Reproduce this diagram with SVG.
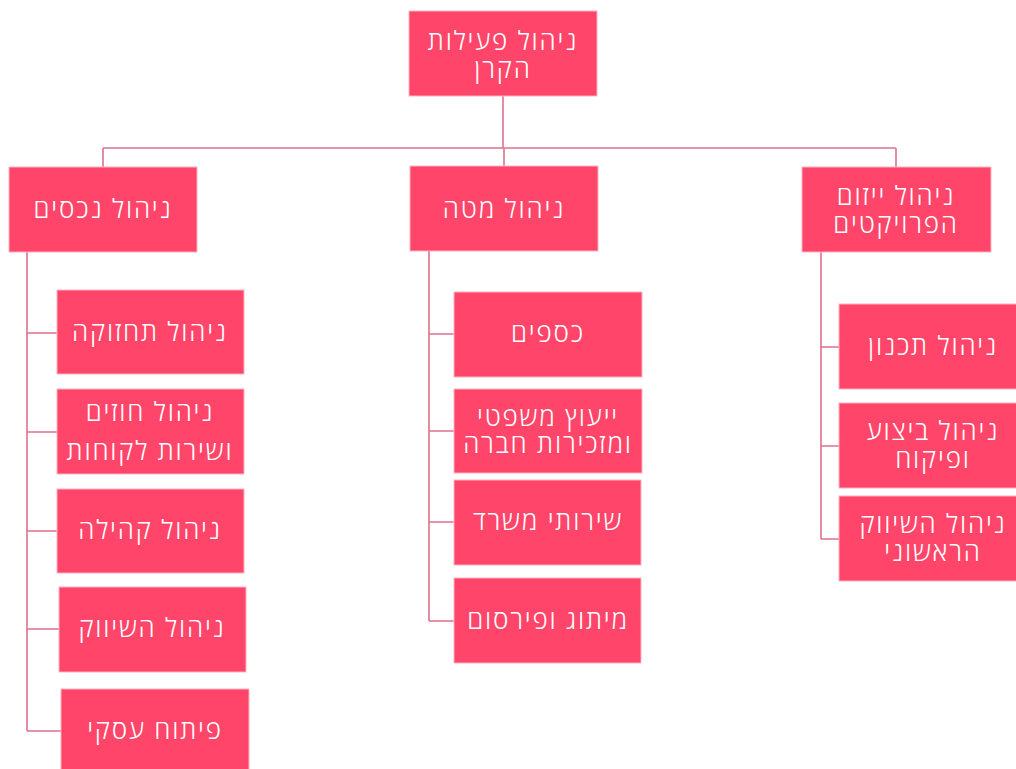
<svg xmlns="http://www.w3.org/2000/svg" width="1016" height="769" viewBox="0 0 1016 769">
<style>
.n{fill:#ff4569;stroke:#ffb3c2;stroke-width:1}
.t{fill:#ffffff;font-family:"Open Sans","Liberation Sans","DejaVu Sans",sans-serif;font-size:26px;font-weight:300;letter-spacing:1.8px;text-anchor:middle;direction:rtl}
.c{fill:none;stroke:#e0718c;stroke-width:1.6}
</style>
<rect width="1016" height="769" fill="#ffffff"/>
<g id="connectors">
<path class="c" d="M503,96V148M103,148H896M103,148V167M504,148V166M896,148V167"/>
<path class="c" d="M27,252V731M27,333H57M27,432H57M27,531H57M27,629H59M27,731H61"/>
<path class="c" d="M429,251V621M429,334H454M429,431H454M429,522H454M429,621H454"/>
<path class="c" d="M821,252V539M821,347H839M821,446H839M821,539H839"/>
</g>
<g id="top"><rect class="n" x="409" y="11" width="188" height="85"/><text class="t" x="503" y="50">ניהול פעילות</text><text class="t" x="503" y="78">הקרן</text></g>
<g id="assets"><rect class="n" x="9" y="167" width="188" height="85"/><text class="t" x="103" y="218">ניהול נכסים</text></g>
<g id="staff"><rect class="n" x="410" y="166" width="188" height="85"/><text class="t" x="504" y="218">ניהול מטה</text></g>
<g id="projects"><rect class="n" x="802" y="167" width="189" height="85"/><text class="t" x="896" y="205">ניהול ייזום</text><text class="t" x="896" y="233">הפרויקטים</text></g>
<g id="maintenance"><rect class="n" x="57" y="290" width="187" height="84"/><text class="t" x="150" y="341">ניהול תחזוקה</text></g>
<g id="contracts"><rect class="n" x="57" y="389" width="187" height="85"/><text class="t" x="150" y="421">ניהול חוזים</text><text class="t" x="150" y="460">ושירות לקוחות</text></g>
<g id="community"><rect class="n" x="57" y="489" width="187" height="84"/><text class="t" x="150" y="539">ניהול קהילה</text></g>
<g id="marketing"><rect class="n" x="59" y="587" width="187" height="85"/><text class="t" x="152" y="637">ניהול השיווק</text></g>
<g id="business"><rect class="n" x="61" y="689" width="188" height="85"/><text class="t" x="155" y="739">פיתוח עסקי</text></g>
<g id="finance"><rect class="n" x="454" y="292" width="188" height="85"/><text class="t" x="548" y="342">כספים</text></g>
<g id="legal"><rect class="n" x="454" y="389" width="188" height="84"/><text class="t" x="548" y="426">ייעוץ משפטי</text><text class="t" x="548" y="453">ומזכירות חברה</text></g>
<g id="office"><rect class="n" x="454" y="480" width="187" height="85"/><text class="t" x="548" y="530">שירותי משרד</text></g>
<g id="branding"><rect class="n" x="454" y="578" width="187" height="85"/><text class="t" x="548" y="629">מיתוג ופירסום</text></g>
<g id="planning"><rect class="n" x="839" y="304" width="188" height="85"/><text class="t" x="933" y="355">ניהול תכנון</text></g>
<g id="execution"><rect class="n" x="839" y="403" width="188" height="85"/><text class="t" x="933" y="440">ניהול ביצוע</text><text class="t" x="933" y="468">ופיקוח</text></g>
<g id="initial-marketing"><rect class="n" x="839" y="496" width="188" height="85"/><text class="t" x="933" y="533">ניהול השיווק</text><text class="t" x="933" y="561">הראשוני</text></g>
</svg>
